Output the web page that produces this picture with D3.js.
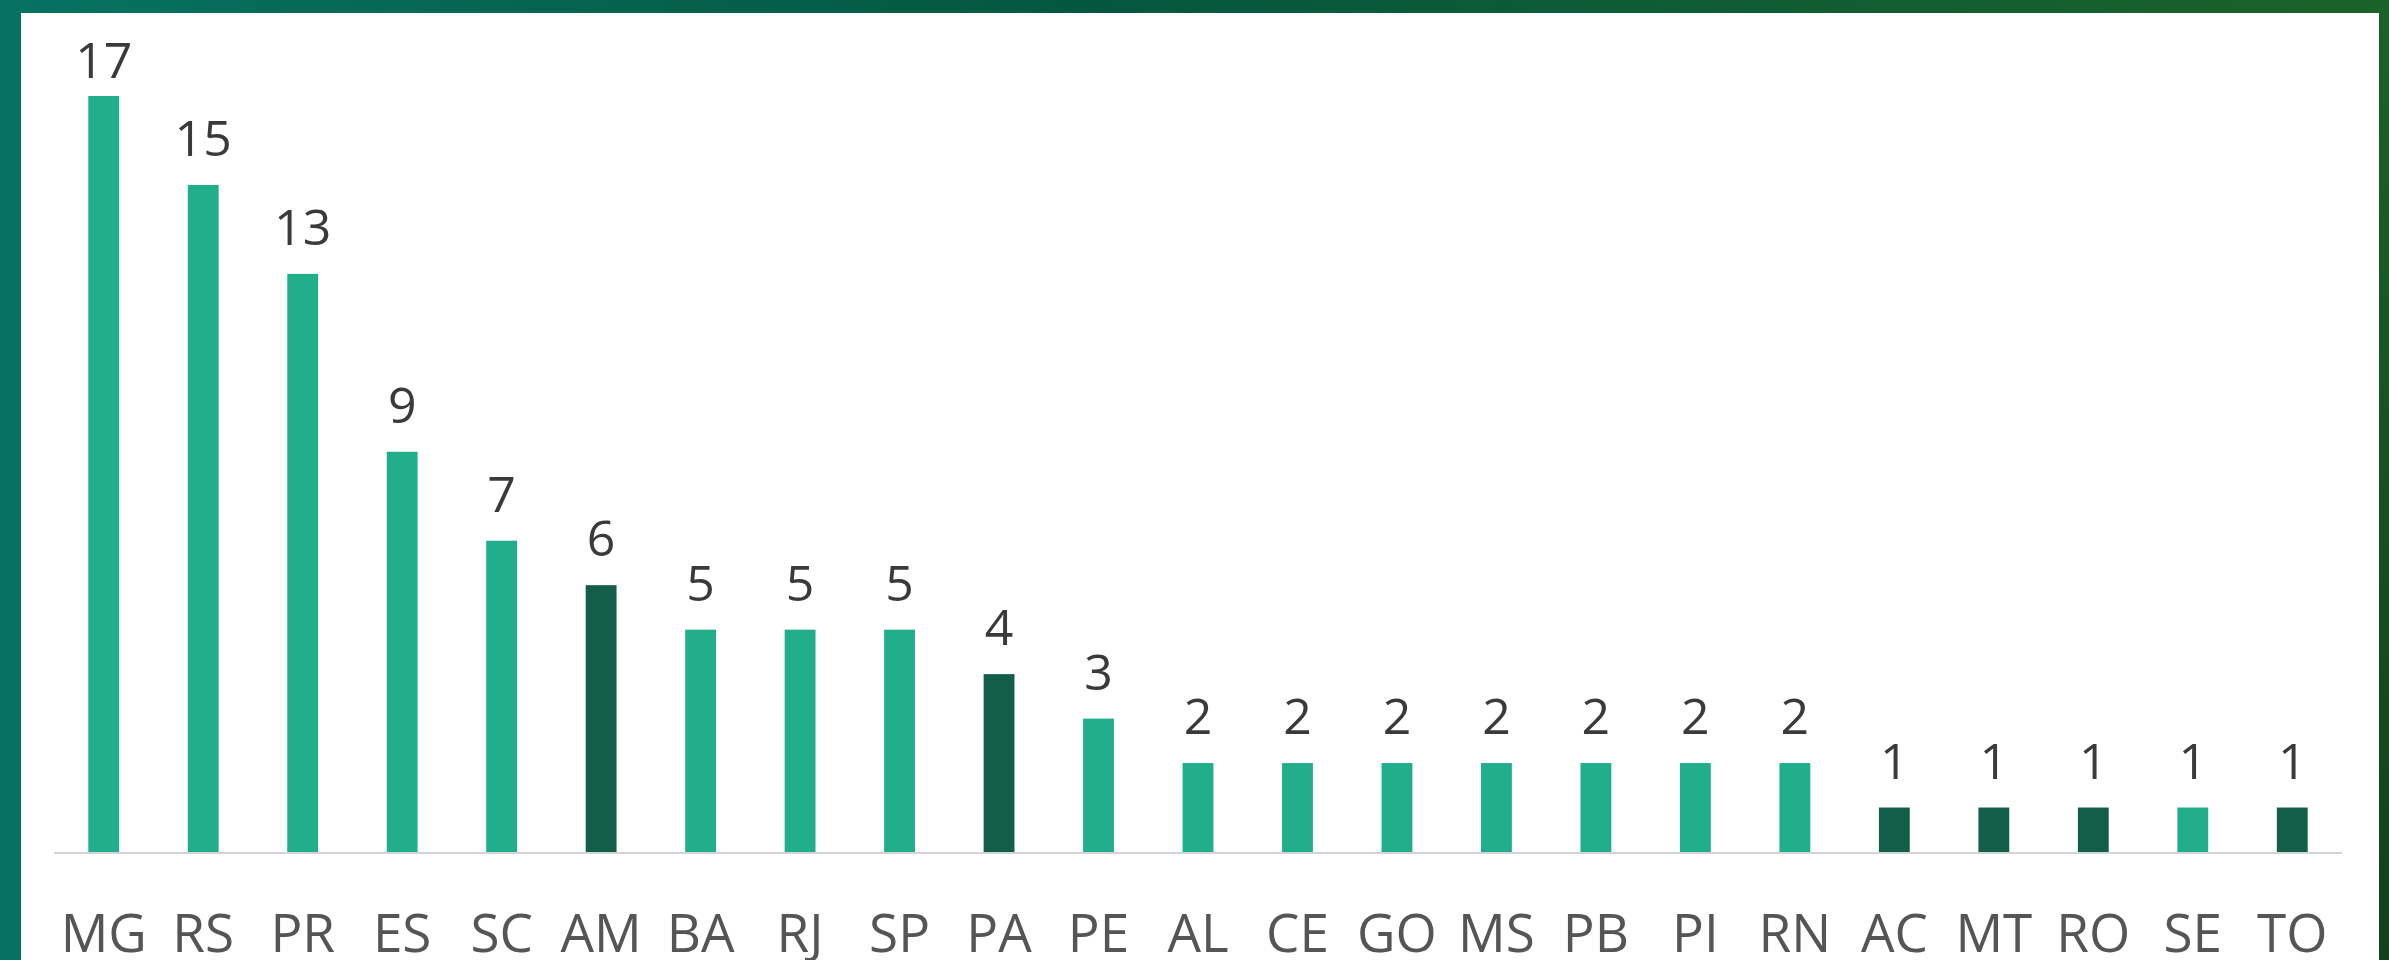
<!DOCTYPE html>
<html>
<head>
<meta charset="utf-8">
<script src="https://cdn.jsdelivr.net/npm/d3@7"></script>
<style>
  html, body { margin: 0; padding: 0; background: #0a5a45; }
  svg { display: block; }
</style>
</head>
<body>
<div id="chart"></div>
<script>
// Data
const states = ["MG", "RS", "PR", "ES", "SC", "AM", "BA", "RJ", "SP", "PA", "PE", "AL", "CE", "GO", "MS", "PB", "PI", "RN", "AC", "MT", "RO", "SE", "TO"];
const counts = [17, 15, 13, 9, 7, 6, 5, 5, 5, 4, 3, 2, 2, 2, 2, 2, 2, 2, 1, 1, 1, 1, 1];
// states drawn in the darker shade
const darkStates = ["AM", "PA", "AC", "MT", "RO", "TO"];

const data = states.map((s, i) => ({ state: s, value: counts[i] }));

const width = 2389;
const height = 960;

const svg = d3.select("#chart")
    .append("svg")
    .attr("width", width)
    .attr("height", height);

// background gradient frame
const defs = svg.append("defs");
const bg = defs.append("linearGradient")
    .attr("id", "bg")
    .attr("x1", "0%").attr("y1", "0%")
    .attr("x2", "100%").attr("y2", "0%");
bg.append("stop").attr("offset", "0%").attr("stop-color", "#067262");
bg.append("stop").attr("offset", "45%").attr("stop-color", "#04573f");
bg.append("stop").attr("offset", "100%").attr("stop-color", "#1b6228");

const shade = defs.append("linearGradient")
    .attr("id", "shade")
    .attr("x1", "0%").attr("y1", "0%")
    .attr("x2", "100%").attr("y2", "100%");
shade.append("stop").attr("offset", "50%").attr("stop-color", "#000").attr("stop-opacity", 0);
shade.append("stop").attr("offset", "100%").attr("stop-color", "#000").attr("stop-opacity", 0.35);

svg.append("rect").attr("width", width).attr("height", height).attr("fill", "url(#bg)");
svg.append("rect").attr("width", width).attr("height", height).attr("fill", "url(#shade)");

// white panel
svg.append("rect")
    .attr("x", 21)
    .attr("y", 13)
    .attr("width", 2379 - 21)
    .attr("height", height - 13)
    .attr("fill", "#ffffff");

// scales
const x = d3.scaleBand()
    .domain(states)
    .range([54, 2342])
    .paddingInner(0.69)
    .paddingOuter(0.345);

const y = d3.scaleLinear()
    .domain([0, 17])
    .range([852, 96]);

// bars
svg.append("g")
    .selectAll("rect")
    .data(data)
    .enter().append("rect")
    .attr("x", d => x(d.state))
    .attr("y", d => y(d.value))
    .attr("width", x.bandwidth())
    .attr("height", d => y(0) - y(d.value))
    .attr("fill", d => darkStates.includes(d.state) ? "#135e48" : "#21ae8b");

// baseline
svg.append("line")
    .attr("x1", 54)
    .attr("x2", 2342)
    .attr("y1", y(0) + 1)
    .attr("y2", y(0) + 1)
    .attr("stroke", "#d4d4d4")
    .attr("stroke-width", 2);

// value labels (clipped at the top of the plot like the original)
svg.append("g")
    .selectAll("text")
    .data(data)
    .enter().append("text")
    .attr("x", d => x(d.state) + x.bandwidth() / 2)
    .attr("y", d => Math.max(y(d.value) - 29, 78))
    .attr("text-anchor", "middle")
    .attr("font-family", "'Open Sans', 'Noto Sans', sans-serif")
    .attr("font-size", 50)
    .attr("fill", "#3a3a3a")
    .text(d => d.value);

// x axis labels
const xAxis = d3.axisBottom(x).tickSize(0).tickPadding(0);
const gx = svg.append("g")
    .attr("transform", `translate(0, ${952})`)
    .call(xAxis);
gx.select(".domain").remove();
gx.selectAll("text")
    .attr("dy", 0)
    .attr("y", 0)
    .attr("font-family", "'Open Sans', 'Noto Sans', sans-serif")
    .attr("font-size", 53)
    .attr("fill", "#555555");
</script>
</body>
</html>
